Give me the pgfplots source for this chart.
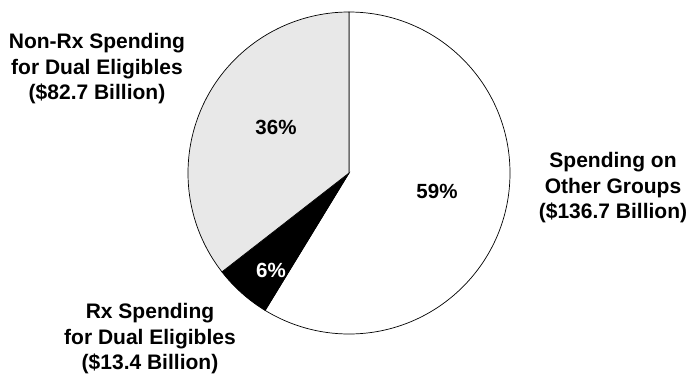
\documentclass[border=0pt]{standalone}
\usepackage{pgfplots}
\pgfplotsset{compat=1.18}
\usepackage{fontspec}
\setmainfont{Liberation Sans}[BoldFont={Liberation Sans Bold}]
\definecolor{pgray}{HTML}{E8E8E8}
% values (billions): other groups, Rx duals, non-Rx duals
\def\vA{136.7}
\def\vB{13.4}
\def\vC{82.7}
\begin{document}
\begin{tikzpicture}
\begin{axis}[width=690pt,height=376pt,scale only axis,
  xmin=0,xmax=690,ymin=0,ymax=376,hide axis,clip=false]
\pgfmathsetmacro{\tot}{\vA+\vB+\vC}
\pgfmathsetmacro{\aA}{90-\vA/\tot*360}
\pgfmathsetmacro{\aB}{\aA-\vB/\tot*360}
\def\R{161}
\fill[white,draw=black,line width=0.7pt] (axis cs:349,203) -- ++(90:\R pt) arc[start angle=90,end angle=\aA,radius=\R pt] -- cycle;
\fill[black,draw=black,line width=0.7pt] (axis cs:349,203) -- ++(\aA:\R pt) arc[start angle=\aA,end angle=\aB,radius=\R pt] -- cycle;
\fill[pgray,draw=black,line width=0.7pt] (axis cs:349,203) -- ++(\aB:\R pt) arc[start angle=\aB,end angle=-270,radius=\R pt] -- cycle;
\node[font=\bfseries\fontsize{20.5}{24}\selectfont] at (axis cs:276,249) {36\%};
\node[font=\bfseries\fontsize{20.5}{24}\selectfont] at (axis cs:437,185) {59\%};
\node[font=\bfseries\fontsize{20.5}{24}\selectfont,text=white] at (axis cs:271,106) {6\%};
\node[font=\bfseries\fontsize{21}{25.5}\selectfont,align=center] at (axis cs:97,307) {Non-Rx Spending\\for Dual Eligibles\\(\$82.7 Billion)};
\node[font=\bfseries\fontsize{21}{25.5}\selectfont,align=center] at (axis cs:613,188) {Spending on\\Other Groups\\(\$136.7 Billion)};
\node[font=\bfseries\fontsize{21}{25.5}\selectfont,align=center] at (axis cs:150,37) {Rx Spending\\for Dual Eligibles\\(\$13.4 Billion)};
\end{axis}
\pgfresetboundingbox
\path (current axis.south west) rectangle (current axis.north east);
\end{tikzpicture}
\end{document}
